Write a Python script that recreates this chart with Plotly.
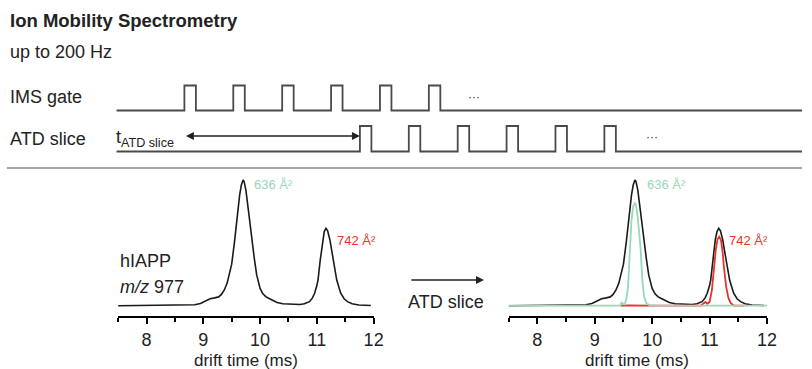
import plotly.graph_objects as go

W, H = 812, 369

# ---------------- data ----------------
drift_time = [7.50, 7.80, 8.10, 8.40, 8.70, 8.85, 8.95, 9.05, 9.12, 9.20, 9.27, 9.32, 9.37, 9.42,
              9.46, 9.50, 9.55, 9.58, 9.61, 9.64, 9.67, 9.70, 9.72, 9.75, 9.79, 9.83, 9.86, 9.90,
              9.94, 9.97, 10.00, 10.05, 10.10, 10.15, 10.22, 10.30, 10.40, 10.50, 10.60, 10.70,
              10.78, 10.84, 10.87, 10.92, 10.96, 11.00, 11.02, 11.06, 11.10, 11.13, 11.16, 11.19,
              11.23, 11.26, 11.29, 11.32, 11.35, 11.42, 11.48, 11.54, 11.62, 11.74, 11.85, 11.95]
atd_full = [0.000, 0.002, 0.000, 0.002, 0.003, 0.008, 0.018, 0.040, 0.055, 0.062, 0.070, 0.090,
            0.125, 0.180, 0.245, 0.330, 0.510, 0.630, 0.775, 0.880, 0.960, 1.000, 0.985, 0.920,
            0.775, 0.620, 0.510, 0.370, 0.245, 0.180, 0.138, 0.095, 0.072, 0.059, 0.040, 0.025,
            0.015, 0.012, 0.012, 0.010, 0.015, 0.025, 0.032, 0.060, 0.099, 0.160, 0.204, 0.364,
            0.523, 0.590, 0.616, 0.595, 0.523, 0.440, 0.364, 0.280, 0.204, 0.099, 0.055, 0.032,
            0.015, 0.006, 0.003, 0.002]

green_time = [7.50, 8.50, 9.30, 9.44, 9.47, 9.49, 9.52, 9.55, 9.58, 9.61, 9.64, 9.67, 9.70, 9.72,
              9.75, 9.78, 9.80, 9.83, 9.86, 9.90, 9.95, 10.10, 11.00, 12.00]
green_int = [0.000, 0.000, 0.000, 0.000, 0.025, 0.015, 0.010, 0.050, 0.150, 0.440, 0.680, 0.790,
             0.815, 0.800, 0.700, 0.550, 0.440, 0.200, 0.070, 0.020, 0.005, 0.000, 0.000, 0.000]

red_time = [9.45, 9.60, 9.95, 10.50, 10.85, 10.90, 10.93, 10.96, 11.00, 11.04, 11.08, 11.11,
            11.14, 11.17, 11.20, 11.23, 11.25, 11.29, 11.33, 11.37, 11.43, 11.60]
red_int = [0.000, 0.003, 0.000, 0.000, 0.000, 0.020, 0.030, 0.015, 0.030, 0.120, 0.310,
           0.450, 0.530, 0.549, 0.520, 0.420, 0.310, 0.150, 0.060, 0.020, 0.000, 0.000]

tick_values = [8, 9, 10, 11, 12]
tick_labels = ["8", "9", "10", "11", "12"]

# schematic timing (in gate periods)
gate_pulses = [0, 1, 2, 3, 4, 5]
slice_pulses = [3.59, 4.59, 5.59, 6.59, 7.59, 8.59]
pulse_width = 0.235

# ---------------- helpers ----------------
PERIOD_PX = 49.5
ORIGIN_PX = 186.7

def px(x):
    return x / W

def py(y):
    return 1 - y / H

def tx(x):
    """page pixel -> schematic time units (x3 axis)"""
    return (x - ORIGIN_PX) / PERIOD_PX

def pulse_train(starts, width, t0, t1, base, top):
    xs, ys = [t0], [base]
    for s in starts:
        xs += [s, s, s + width, s + width]
        ys += [base, top, top, base]
    xs.append(t1)
    ys.append(base)
    return xs, ys

BLACK = "#1a1a1a"
GREEN = "#97d8b8"
RED = "#e8332c"
GRAY = "#4a4a4a"
FONT = "Liberation Sans, Arial, sans-serif"

fig = go.Figure()

# left panel
fig.add_trace(go.Scatter(x=drift_time, y=atd_full, mode="lines",
                         line=dict(color=BLACK, width=1.6), xaxis="x", yaxis="y", showlegend=False))
# right panel
fig.add_trace(go.Scatter(x=drift_time, y=atd_full, mode="lines",
                         line=dict(color=BLACK, width=1.6), xaxis="x2", yaxis="y2", showlegend=False))
fig.add_trace(go.Scatter(x=red_time, y=red_int, mode="lines",
                         line=dict(color=RED, width=1.8), xaxis="x2", yaxis="y2", showlegend=False))
fig.add_trace(go.Scatter(x=green_time, y=green_int, mode="lines",
                         line=dict(color=GREEN, width=1.8), xaxis="x2", yaxis="y2", showlegend=False))

# schematic pulse trains
T0 = tx(118)
T1 = tx(W)
gx, gy = pulse_train(gate_pulses, pulse_width, T0, T1, 110.5, 85.5)
sx, sy = pulse_train(slice_pulses, pulse_width, T0, T1, 151.5, 126.0)
fig.add_trace(go.Scatter(x=gx, y=gy, mode="lines", line=dict(color=GRAY, width=1.8),
                         xaxis="x3", yaxis="y3", showlegend=False))
fig.add_trace(go.Scatter(x=sx, y=sy, mode="lines", line=dict(color=GRAY, width=1.8),
                         xaxis="x3", yaxis="y3", showlegend=False))

ydom = [py(316), py(175)]
yrange = [-0.082, 1.04]

def xaxis_cfg(domain, anchor):
    return dict(domain=domain, anchor=anchor, range=[7.5, 12], showline=True, linecolor="black",
                linewidth=2, ticks="outside", ticklen=6, tickwidth=1.6, tickcolor="black",
                tickvals=tick_values, ticktext=tick_labels,
                tickfont=dict(size=18, color="#222", family=FONT),
                minor=dict(ticks="outside", ticklen=3.5, tickwidth=1.6, tickcolor="black",
                           tick0=7.5, dtick=0.5),
                showgrid=False, zeroline=False, fixedrange=True)

def yaxis_cfg(anchor):
    return dict(domain=ydom, range=yrange, visible=False, anchor=anchor, fixedrange=True)

annotations = []

def text(x, y, s, size=18, color="#222", xanchor="left"):
    annotations.append(dict(x=px(x), y=py(y), xref="paper", yref="paper", text=s,
                            showarrow=False, xanchor=xanchor, yanchor="middle",
                            font=dict(size=size, color=color, family=FONT)))

text(8, 21, "<b>Ion Mobility Spectrometry</b>", size=18.5)
text(8, 52, "up to 200 Hz", size=18)
text(8, 97, "IMS gate", size=18)
text(8, 139, "ATD slice", size=18)
text(115, 139, "t<sub>ATD slice</sub>", size=18)
text(472, 97, "···", size=12, color="#333")
text(652, 137, "···", size=12, color="#333")

text(119, 261, "hIAPP", size=18)
text(119, 287, "<i>m/z</i> 977", size=18)
text(452, 302, "ATD slice", size=18, xanchor="center")

text(255, 185, "636 Å²", size=13, color=GREEN)
text(339, 240, "742 Å²", size=13, color=RED)
text(653, 185, "636 Å²", size=13, color=GREEN)
text(736, 240, "742 Å²", size=13, color=RED)

text(249, 360, "drift time (ms)", size=17, xanchor="center")
text(645, 360, "drift time (ms)", size=17, xanchor="center")

# double-headed arrow t_ATD slice
annotations.append(dict(x=slice_pulses[0], y=136, ax=gate_pulses[0], ay=136, xref="x3", yref="y3",
                        axref="x3", ayref="y3", text="", showarrow=True, arrowhead=2,
                        startarrowhead=2, arrowside="end+start", arrowsize=1, startarrowsize=1,
                        arrowwidth=1.6, arrowcolor="#222", standoff=0, startstandoff=0))
# arrow between panels
annotations.append(dict(x=tx(490), y=280, ax=tx(415), ay=280, xref="x3", yref="y3",
                        axref="x3", ayref="y3", text="", showarrow=True, arrowhead=2,
                        arrowsize=1, arrowwidth=1.6, arrowcolor="#222", standoff=0))

shapes = [dict(type="line", xref="paper", yref="paper", x0=px(7), x1=1, y0=py(168), y1=py(168),
               line=dict(color="#a8a8a8", width=1.8))]

fig.update_layout(
    width=W, height=H, autosize=False, margin=dict(l=0, r=0, t=0, b=0),
    paper_bgcolor="white", plot_bgcolor="rgba(0,0,0,0)",
    font=dict(family=FONT, color="#222"),
    showlegend=False,
    xaxis=xaxis_cfg([px(119.6), px(378.3)], "y"),
    yaxis=yaxis_cfg("x"),
    xaxis2=xaxis_cfg([px(515), px(776.5)], "y2"),
    yaxis2=yaxis_cfg("x2"),
    xaxis3=dict(domain=[0, 1], range=[tx(0), tx(W)], visible=False, anchor="y3", fixedrange=True),
    yaxis3=dict(domain=[0, 1], range=[H, 0], visible=False, anchor="x3", fixedrange=True),
    annotations=annotations,
    shapes=shapes,
)

fig.write_html("out.html",
               config={"displayModeBar": False, "responsive": False},
               post_script="document.body.style.margin='0';document.body.style.overflow='hidden';"
                           "document.documentElement.style.overflow='hidden';")
